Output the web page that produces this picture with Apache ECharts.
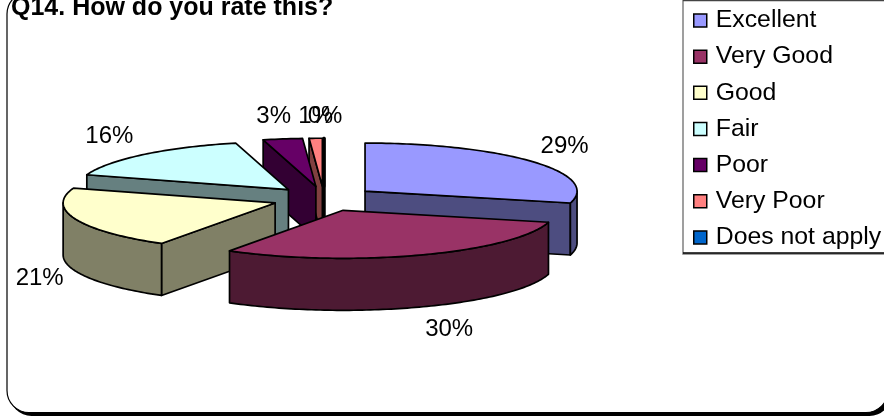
<!DOCTYPE html>
<html>
<head>
<meta charset="utf-8">
<style>html,body{margin:0;padding:0;background:#fff}#chart{width:884px;height:416px}</style>
<script src="https://cdn.jsdelivr.net/npm/echarts@6/dist/echarts.min.js"></script>
</head>
<body>
<div id="chart"></div>
<script>
// Survey responses, in legend order.
const categories = ['Excellent', 'Very Good', 'Good', 'Fair', 'Poor', 'Very Poor', 'Does not apply'];
const percents = [29, 30, 21, 16, 3, 1, 0];
const topColors = ['#9999FF', '#993366', '#FFFFCC', '#CCFFFF', '#660066', '#FF8080', '#0066CC'];
const wallColors = ['#4D4D80', '#4D1A33', '#808066', '#668080', '#330033', '#804040', '#00264D'];

// Back-to-front painting sequence, as indexes into the lists above.
const paintOrder = [6, 5, 4, 3, 0, 2, 1];
// Label nudges from the slice's rim midpoint.
const labelNudges = [[32, -15], [28, 74], [-36, 59], [-34, -18], [-9, -23], [0, -22], [1, -22]];

// Tilted pie projection.
const PIE = { cx: 324, cy: 198.7, rx: 212, ry: 48, depth: 52, explode: 0.245 };
const FONT = '"Liberation Sans", Arial, sans-serif';
const total = percents.reduce((s, v) => s + v, 0);

const startAngles = [];
percents.reduce((acc, v, i) => { startAngles[i] = acc; return acc + v / total * Math.PI * 2; }, 0);

function project(origin, angle) {
  return [origin[0] + PIE.rx * Math.sin(angle), origin[1] - PIE.ry * Math.cos(angle)];
}

function arcPoints(origin, from, to) {
  const steps = Math.max(2, Math.ceil((to - from) / 0.02));
  const pts = [];
  for (let i = 0; i <= steps; i++) pts.push(project(origin, from + (to - from) * i / steps));
  return pts;
}

function sliceGroup(i, value) {
  const sweep = value / total * Math.PI * 2;
  const a0 = startAngles[i];
  const a1 = a0 + sweep;
  const mid = a0 + sweep / 2;
  const apex = [
    PIE.cx + PIE.rx * PIE.explode * Math.sin(mid),
    PIE.cy - PIE.ry * (PIE.explode + 0.015) * Math.cos(mid)
  ];
  const down = p => [p[0], p[1] + PIE.depth];
  const stroke = { stroke: '#000', lineWidth: value === 0 ? 3 : 1.7, lineJoin: 'round' };
  const children = [];
  const addPoly = (points, fill) => children.push({
    type: 'polygon', shape: { points }, style: Object.assign({ fill }, stroke)
  });
  const addCut = ang => {
    const r = project(apex, ang);
    addPoly([apex, r, down(r), down(apex)], wallColors[i]);
  };

  // Cut faces show only when their outward normal points at the viewer.
  if (Math.sin(a0) < 0) addCut(a0);
  if (Math.sin(a1) > 0) addCut(a1);
  if (value === 0) addCut(a0);

  // Outer wall: only the near half of the rim shows.
  const wallFrom = Math.max(a0, Math.PI / 2);
  const wallTo = Math.min(a1, Math.PI * 1.5);
  if (wallTo > wallFrom) {
    const rim = arcPoints(apex, wallFrom, wallTo);
    addPoly(rim.concat(rim.slice().reverse().map(down)), wallColors[i]);
  }

  // Top face.
  addPoly([apex].concat(arcPoints(apex, a0, a1)), topColors[i]);

  // Percentage label.
  const anchor = project(apex, mid);
  children.push({
    type: 'text',
    z2: 10,
    style: {
      x: anchor[0] + labelNudges[i][0],
      y: anchor[1] + labelNudges[i][1],
      text: value + '%',
      fill: '#000',
      font: '24px ' + FONT,
      align: 'center',
      verticalAlign: 'middle'
    }
  });
  return { type: 'group', children };
}

const series = categories.map((name, i) => ({
  type: 'custom',
  name,
  coordinateSystem: 'none',
  z: 2 + paintOrder.indexOf(i),
  silent: true,
  itemStyle: { color: topColors[i] },
  data: [[percents[i]]],
  renderItem: (params, api) => sliceGroup(i, api.value(0))
}));

const chart = echarts.init(document.getElementById('chart'), null, { renderer: 'canvas' });
chart.setOption({
  animation: false,
  backgroundColor: '#fff',
  title: {
    text: 'Q14. How do you rate this?',
    left: 11,
    top: -4,
    padding: 0,
    textStyle: { color: '#000', fontFamily: FONT, fontWeight: 'bold', fontSize: 25 }
  },
  legend: {
    data: categories,
    orient: 'vertical',
    left: 683,
    top: 0,
    padding: [8, 10, 4, 10],
    itemWidth: 13,
    itemHeight: 13,
    itemGap: 11.15,
    icon: 'rect',
    selectedMode: false,
    borderColor: '#808080',
    borderWidth: 1.5,
    backgroundColor: '#fff',
    itemStyle: { borderColor: '#000', borderWidth: 1.5 },
    textStyle: { color: '#000', fontFamily: FONT, fontSize: 24.8, lineHeight: 25, padding: [0, 0, 0, 4] }
  },
  graphic: [
    { type: 'rect', z: -2, silent: true, shape: { x: 9.5, y: -8, width: 882, height: 424, r: 22 }, style: { fill: '#000' } },
    { type: 'rect', z: -1, silent: true, shape: { x: 7, y: -8, width: 881, height: 420.5, r: 22 }, style: { fill: '#fff', stroke: '#000', lineWidth: 1.2 } },
    { type: 'line', z: 20, silent: true, shape: { x1: 683, y1: 0.5, x2: 884, y2: 0.5 }, style: { stroke: '#444', lineWidth: 1.5 } },
    { type: 'line', z: 20, silent: true, shape: { x1: 683, y1: 253, x2: 884, y2: 253 }, style: { stroke: '#000', lineWidth: 1.5 } }
  ],
  series
});
</script>
</body>
</html>
